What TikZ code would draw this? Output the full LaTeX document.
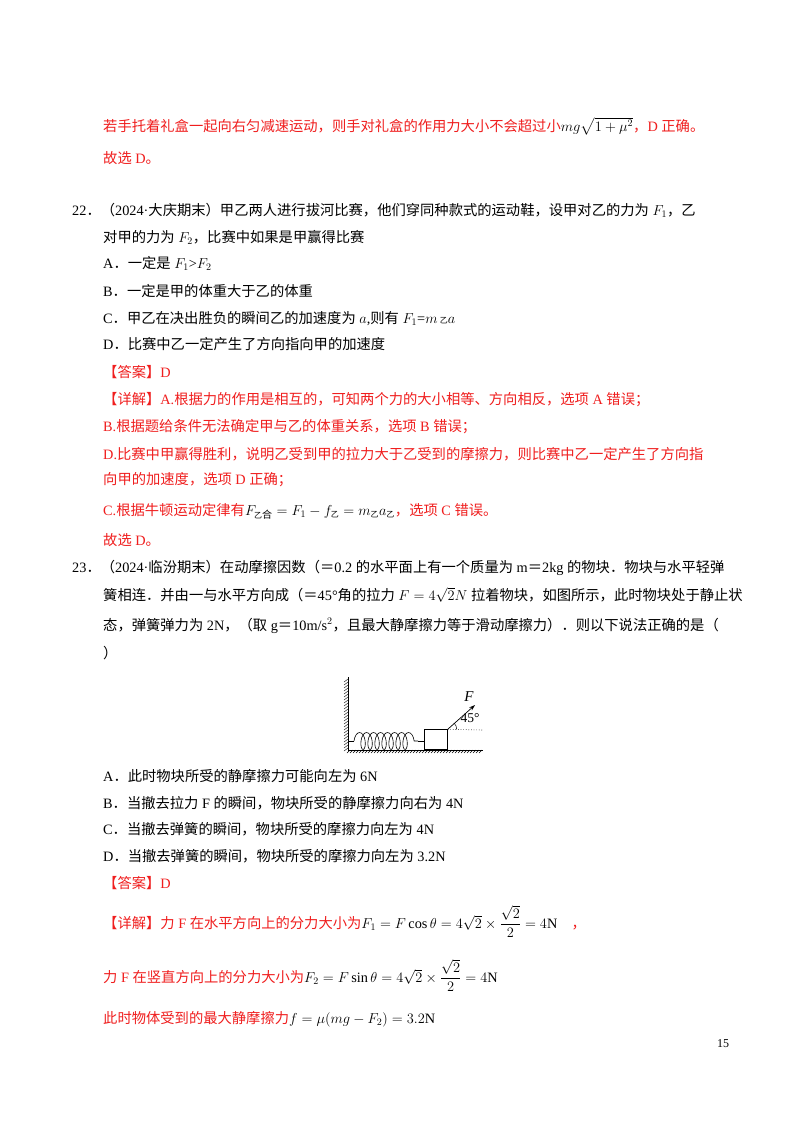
\documentclass[tikz,border=0pt]{standalone}
\usepackage{amsmath}
\usepackage{fontspec}
\usetikzlibrary{decorations.pathmorphing,arrows.meta}
\setmainfont{Liberation Serif}
\newfontfamily\cjk{Noto Sans CJK SC}
\XeTeXinterchartokenstate=1
\newXeTeXintercharclass\cjkclass
\count255="4E00
\loop\XeTeXcharclass\count255=\cjkclass\ifnum\count255<"9FFF\advance\count255 1\repeat
\count255="3000
\loop\XeTeXcharclass\count255=\cjkclass\ifnum\count255<"303F\advance\count255 1\repeat
\count255="FF00
\loop\XeTeXcharclass\count255=\cjkclass\ifnum\count255<"FFEF\advance\count255 1\repeat
\XeTeXinterchartoks 0 \cjkclass={\begingroup\cjk}
\XeTeXinterchartoks 4095 \cjkclass={\begingroup\cjk}
\XeTeXinterchartoks \cjkclass 0={\endgroup}
\XeTeXinterchartoks \cjkclass 4095={\endgroup}
\definecolor{ansred}{RGB}{240,30,30}
\newcommand{\zy}{\mbox{\cjk\fontsize{8}{8}\selectfont 乙}}
\newcommand{\bm}[1]{\textcolor{black}{#1}}
\begin{document}
\begin{tikzpicture}[x=1pt,y=-1pt,
  ln/.style={anchor=base west,inner sep=0pt,font=\fontsize{14.3}{17}\selectfont},
  rd/.style={ln,text=ansred}]
\useasboundingbox[fill=white] (0,0) rectangle (800,1132);
\node[rd] (l1) at (103,131) {若手托着礼盒一起向右匀减速运动，则手对礼盒的作用力大小不会超过小\bm{$mg\sqrt{1+\mu^2}$}，D 正确。};
\node[rd] (l2) at (103,163) {故选 D。};
\node[ln] (q22) at (72,215) {22．（2024·大庆期末）甲乙两人进行拔河比赛，他们穿同种款式的运动鞋，设甲对乙的力为 $F_1$，乙};
\node[ln] (q22b) at (103,242) {对甲的力为 $F_2$，比赛中如果是甲赢得比赛};
\node[ln] (a) at (103,268) {A．一定是 $F_1$>$F_2$};
\node[ln] (b) at (103,296) {B．一定是甲的体重大于乙的体重};
\node[ln] (c) at (103,323) {C．甲乙在决出胜负的瞬间乙的加速度为 $a$,则有 $F_1$=$m$\,\zy$a$};
\node[ln] (d) at (103,349) {D．比赛中乙一定产生了方向指向甲的加速度};
\node[rd] (ans) at (103,377) {【答案】D};
\node[rd] (L1) at (103,404) {【详解】A.根据力的作用是相互的，可知两个力的大小相等、方向相反，选项 A 错误；};
\node[rd] (L2) at (103,431) {B.根据题给条件无法确定甲与乙的体重关系，选项 B 错误；};
\node[rd] (L3) at (103,459) {D.比赛中甲赢得胜利，说明乙受到甲的拉力大于乙受到的摩擦力，则比赛中乙一定产生了方向指};
\node[rd] (L4) at (103,484) {向甲的加速度，选项 D 正确；};
\node[rd] (L5) at (103,515) {C.根据牛顿运动定律有\bm{$F_{\text{\zy 合}}=F_1-f_{\zy}=m_{\zy}a_{\zy}$}，选项 C 错误。};
\node[rd] (L6) at (103,545) {故选 D。};
\node[ln] (q23) at (72,572) {23．（2024·临汾期末）在动摩擦因数（＝0.2 的水平面上有一个质量为 m＝2kg 的物块．物块与水平轻弹};
\node[ln] (q23b) at (103,600) {簧相连．并由一与水平方向成（＝45°角的拉力 $F=4\sqrt{2}N$ 拉着物块，如图所示，此时物块处于静止状};
\node[ln] (q23c) at (103,630) {态，弹簧弹力为 2N，（取 g＝10m/s$^2$，且最大静摩擦力等于滑动摩擦力）．则以下说法正确的是（};
\node[ln] (q23d) at (103,658) {）};
% figure
\coordinate (wt) at (348,677);
\coordinate (wb) at (348,750);
\coordinate (ge) at (483,750);
\draw[line width=0.9pt] (wt) -- (wb) -- (ge);
\foreach \yy in {679,682,...,748} \draw[line width=0.4pt] (348,\yy) -- (344,\yy+3);
\foreach \xx in {350,353,...,482} \draw[line width=0.4pt] (\xx,750) -- (\xx-3,753);
\node[draw,line width=0.7pt,minimum width=23pt,minimum height=20pt,inner sep=0pt,anchor=south west] (blk) at (424,750) {};
\coordinate (s0) at (348,741);
\coordinate (s1) at (354,741);
\coordinate (s2) at (418,741);
\draw[line width=0.6pt] (s0) -- (s1);
\draw[line width=0.6pt,decorate,decoration={coil,aspect=0.45,segment length=7pt,amplitude=8.5pt}] (s1) -- (s2);
\draw[line width=0.6pt] (s2) -- (blk.west |- s2);
\draw[dotted,line width=0.6pt] (blk.north east) -- (482,730);
\coordinate (fe) at (475,705);
\draw[line width=0.7pt,-{Stealth[length=6pt,width=4pt]}] (blk.north east) -- (fe);
\draw[line width=0.5pt] ([shift={(0:9)}]blk.north east) arc[start angle=0,end angle=-45,radius=9];
\node[font=\itshape\fontsize{15}{15}\selectfont,inner sep=0pt] (F) at (469,697) {F};
\node[font=\fontsize{13.5}{13.5}\selectfont,inner sep=0pt] (ang) at (470,718) {45°};
% options
\node[ln] (A2) at (103,781) {A．此时物块所受的静摩擦力可能向左为 6N};
\node[ln] (B2) at (103,808) {B．当撤去拉力 F 的瞬间，物块所受的静摩擦力向右为 4N};
\node[ln] (C2) at (103,834) {C．当撤去弹簧的瞬间，物块所受的摩擦力向左为 4N};
\node[ln] (D2) at (103,861) {D．当撤去弹簧的瞬间，物块所受的摩擦力向左为 3.2N};
\node[rd] (ans2) at (103,888) {【答案】D};
\node[rd] (M1) at (103,928) {【详解】力 F 在水平方向上的分力大小为\bm{$F_1=F\cos\theta=4\sqrt{2}\times\dfrac{\sqrt{2}}{2}=4\mathrm{N}$}\quad ，};
\node[rd] (M2) at (103,982) {力 F 在竖直方向上的分力大小为\bm{$F_2=F\sin\theta=4\sqrt{2}\times\dfrac{\sqrt{2}}{2}=4\mathrm{N}$}};
\node[rd] (M3) at (103,1023) {此时物体受到的最大静摩擦力\bm{$f=\mu(mg-F_2)=3.2\mathrm{N}$}};
\node[ln,font=\fontsize{12}{12}\selectfont] (pg) at (717,1047) {15};
\end{tikzpicture}
\end{document}
